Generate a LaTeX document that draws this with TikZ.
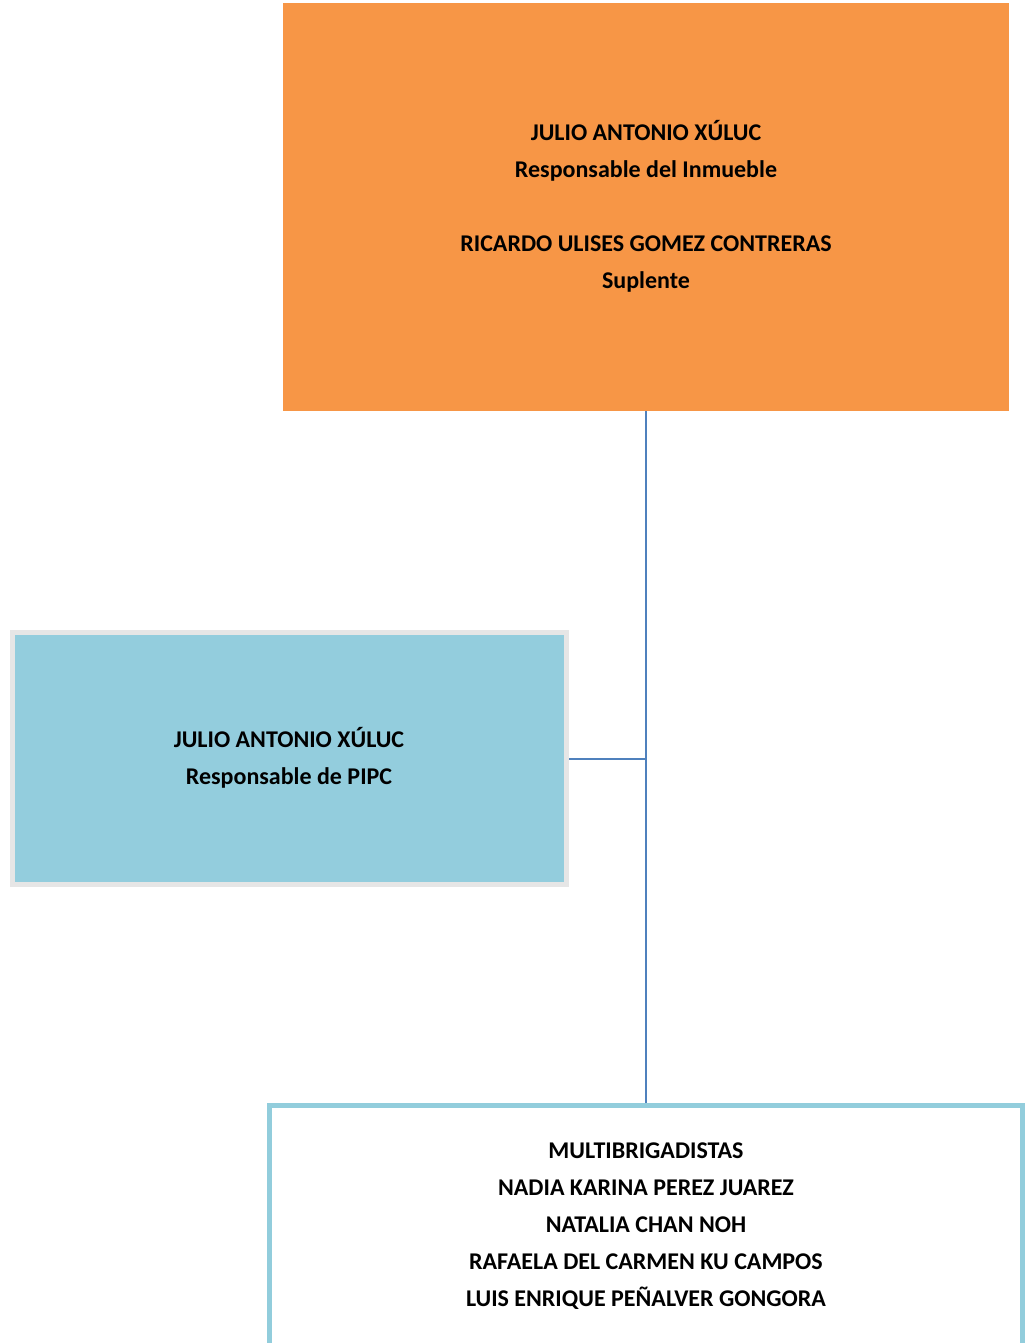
\documentclass[tikz,border=0pt]{standalone}
\usepackage{fontspec}
\setmainfont{Carlito}
\usetikzlibrary{positioning}

\definecolor{naranja}{HTML}{F79646}
\definecolor{celeste}{HTML}{93CDDD}
\definecolor{bordeceleste}{HTML}{92CDDC}
\definecolor{grisborde}{HTML}{E6E6E6}
\definecolor{linea}{HTML}{4F81BD}

\tikzset{
  cargo/.style={font=\bfseries\fontsize{24}{37}\selectfont, align=center, inner sep=0pt},
  enlace/.style={linea, line width=2pt}
}

\begin{document}
\begin{tikzpicture}[x=1pt, y=-1pt, line join=miter]
        \useasboundingbox (0,0) rectangle (1026,1343);

        % Caja del responsable del inmueble
        \fill[naranja] (283,3) rectangle (1009,411);
        \node[inner sep=0pt, minimum width=726pt, minimum height=408pt] (inmueble) at (646,207) {};
        \node[cargo] (titular) at (646,206.5) {JULIO ANTONIO XÚLUC\\Responsable del Inmueble\\[37pt]RICARDO ULISES GOMEZ CONTRERAS\\Suplente};

        % Caja de PIPC
        \draw[grisborde, line width=5pt, fill=celeste] (12.5,632.5) rectangle (566.5,884.5);
        \node[inner sep=0pt, minimum width=559pt, minimum height=257pt] (pipc) at (289.5,758.5) {};
        \node[cargo] (pipctxt) at (289,757.5) {JULIO ANTONIO XÚLUC\\Responsable de PIPC};

        % Caja de brigadistas (cortada abajo)
        \draw[bordeceleste, line width=5pt] (269.5,1360) -- (269.5,1105.5) -- (1022.5,1105.5) -- (1022.5,1360);
        \coordinate (brigada) at (646,1103);
        \node[cargo] (brigtxt) at (646,1226.5) {MULTIBRIGADISTAS\\NADIA KARINA PEREZ JUAREZ\\NATALIA CHAN NOH\\RAFAELA DEL CARMEN KU CAMPOS\\LUIS ENRIQUE PEÑALVER GONGORA};

        % Conectores
        \coordinate (cruce) at (inmueble.south |- pipc.east);
        \draw[enlace] (inmueble.south) -- (brigada);
        \draw[enlace] (pipc.east) -- (cruce);
    \end{tikzpicture}
\end{document}
